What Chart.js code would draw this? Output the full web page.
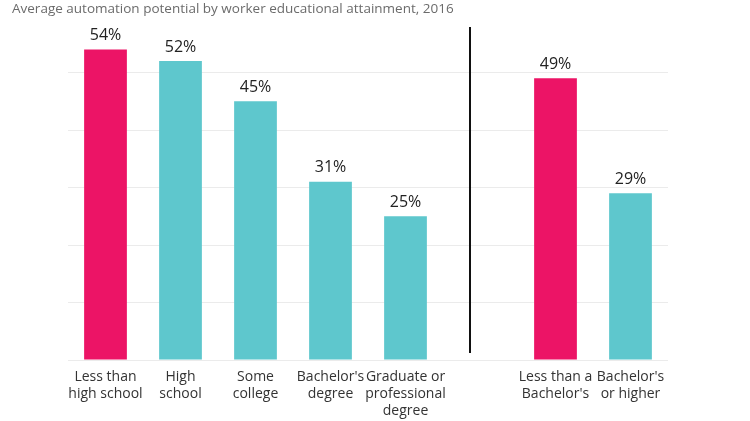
<!DOCTYPE html>
<html>
<head>
<meta charset="utf-8">
<script src="https://cdn.jsdelivr.net/npm/chart.js@4"></script>
<style>
  body { margin: 0; background: #fff; }
  #wrap { position: relative; width: 750px; height: 421px; }
  #title { position: absolute; left: 12px; top: -1px; font: 13.5px "Open Sans", sans-serif; color: #6b6b6b; }
</style>
</head>
<body>
<div id="wrap">
  <canvas id="chart" width="750" height="421"></canvas>
  <div id="title">Average automation potential by worker educational attainment, 2016</div>
</div>
<script>
// categories, with an empty slot between the two groups
const categories = [
    ['Less than', 'high school'],
    ['High', 'school'],
    ['Some', 'college'],
    ["Bachelor's", 'degree'],
    ['Graduate or', 'professional', 'degree'],
    '',
    ['Less than a', "Bachelor's"],
    ["Bachelor's", 'or higher']
];
const values = [54, 52, 45, 31, 25, null, 49, 29];
const highlight = [true, false, false, false, false, false, true, false];

const PINK = '#ec1466';
const TEAL = '#5ec7cd';

const valueLabels = {
    id: 'valueLabels',
    afterDatasetsDraw(chart) {
        const ctx = chart.ctx;
        const meta = chart.getDatasetMeta(0);
        ctx.save();
        ctx.font = '16px "Open Sans", sans-serif';
        ctx.fillStyle = '#222';
        ctx.textAlign = 'center';
        ctx.textBaseline = 'bottom';
        meta.data.forEach((bar, i) => {
            if (values[i] == null) return;
            ctx.fillText(values[i] + '%', bar.x, bar.y - 6);
        });
        ctx.restore();
    }
};

// black separator between the two groups
const divider = {
    id: 'divider',
    afterDatasetsDraw(chart) {
        const ctx = chart.ctx;
        const x = chart.scales.x.getPixelForValue(4.86);
        ctx.save();
        ctx.strokeStyle = '#111';
        ctx.lineWidth = 2;
        ctx.beginPath();
        ctx.moveTo(x, 27);
        ctx.lineTo(x, chart.chartArea.bottom - 7);
        ctx.stroke();
        ctx.restore();
    }
};

new Chart(document.getElementById('chart').getContext('2d'), {
    type: 'bar',
    data: {
        labels: categories,
        datasets: [{
            data: values,
            backgroundColor: highlight.map(h => h ? PINK : TEAL),
            barPercentage: 0.57,
            categoryPercentage: 1
        }]
    },
    options: {
        responsive: false,
        animation: false,
        layout: { padding: { left: 68, right: 82, top: 15, bottom: 0 } },
        plugins: {
            legend: { display: false },
            tooltip: { enabled: false }
        },
        scales: {
            x: {
                grid: { display: false },
                border: { display: false },
                ticks: {
                    color: '#333',
                    font: { family: '"Open Sans", sans-serif', size: 14 },
                    maxRotation: 0,
                    autoSkip: false,
                    padding: 1
                },
                afterFit(scale) { scale.height = 61; }
            },
            y: {
                min: 0,
                max: 60,
                border: { display: false },
                grid: {
                    drawTicks: false,
                    color: ctx => ctx.tick.value >= 60 ? 'rgba(0,0,0,0)' : '#ebebeb'
                },
                ticks: { display: false, stepSize: 10 },
                afterFit(scale) { scale.width = 0; }
            }
        }
    },
    plugins: [valueLabels, divider]
});
</script>
</body>
</html>
